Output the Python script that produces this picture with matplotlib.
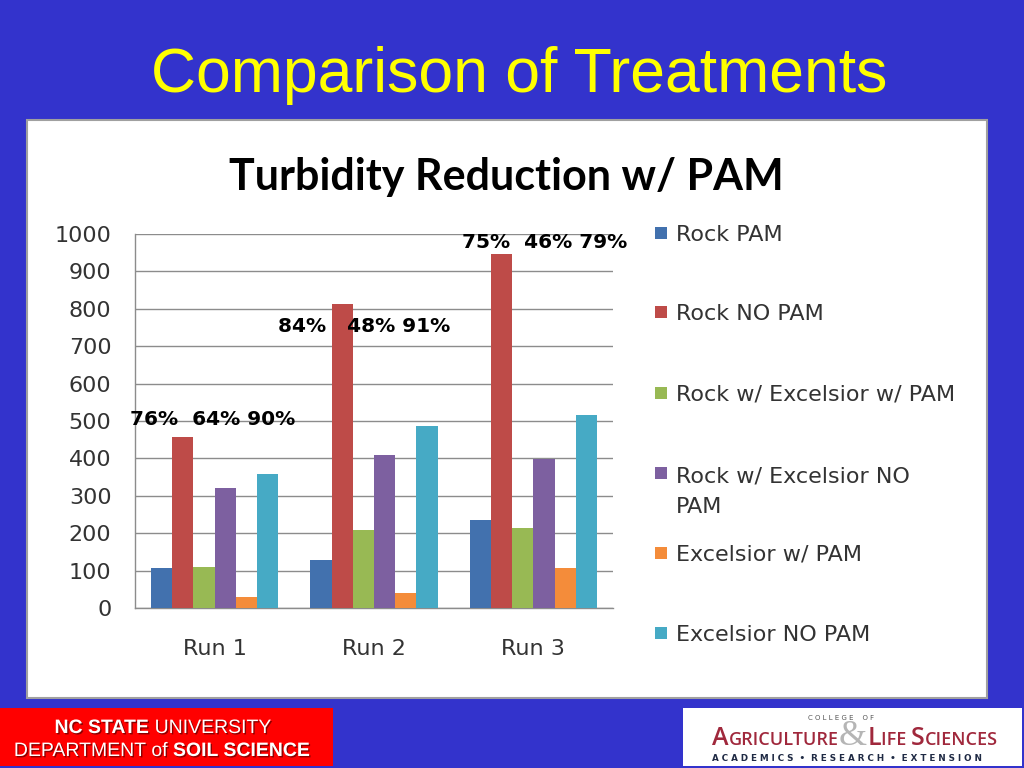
import matplotlib
matplotlib.use("Agg")
import matplotlib.pyplot as plt
import matplotlib.patheffects as pe
from matplotlib.patches import Rectangle
import numpy as np

# ---------------- data ----------------
runs = ["Run 1", "Run 2", "Run 3"]
series_names = ["Rock PAM", "Rock NO PAM", "Rock w/ Excelsior w/ PAM",
                "Rock w/ Excelsior NO\nPAM", "Excelsior w/ PAM", "Excelsior NO PAM"]
rock_pam = [108, 128, 235]
rock_no_pam = [456, 813, 946]
rock_exc_pam = [110, 209, 214]
rock_exc_no_pam = [320, 409, 399]
exc_pam = [30, 39, 108]
exc_no_pam = [358, 487, 517]
reduction_labels = ["76%  64% 90%", "84%   48% 91%", "75%  46% 79%"]
y_ticks = [0, 100, 200, 300, 400, 500, 600, 700, 800, 900, 1000]

series_values = [rock_pam, rock_no_pam, rock_exc_pam, rock_exc_no_pam, exc_pam, exc_no_pam]
colors = ["#4271AE", "#BE4B48", "#98B954", "#7D60A0", "#F48C3A", "#46AAC5"]

# annotation placement (data coords) - style/position only
label_pos = [(-0.01, 503), (0.94, 754), (2.07, 976)]

W, H = 1024, 768
fig = plt.figure(figsize=(W / 100, H / 100), dpi=100, facecolor="#3333CC")

def fx(px):
    return px / W

def fy(py):
    return 1 - py / H

# slide title
fig.text(fx(519), fy(92), "Comparison of Treatments", color="#FFFF00",
         fontsize=45, family="Liberation Sans", ha="center", va="baseline")

# white chart panel
fig.add_artist(Rectangle((fx(27), fy(698)), fx(987) - fx(27), fy(120) - fy(698),
                         transform=fig.transFigure, facecolor="white",
                         edgecolor="#A0A0A0", lw=1.5, zorder=-1))

# chart title
fig.text(fx(506), fy(190), "Turbidity Reduction w/ PAM", color="black",
         fontsize=31, family="Lato", fontweight="bold", ha="center", va="baseline")

# main axes
ax = fig.add_axes([fx(135), fy(608), fx(613) - fx(135), fy(234) - fy(608)])
ax.set_facecolor("white")
x = np.arange(len(runs))
n = len(series_values)
bw = 0.133
for i, (vals, c, name) in enumerate(zip(series_values, colors, series_names)):
    ax.bar(x + (i - (n - 1) / 2) * bw, vals, width=bw, color=c, label=name,
           zorder=3, linewidth=0)

ax.set_xlim(-0.5, 2.5)
ax.set_ylim(0, 1000)
ax.set_yticks(y_ticks)
ax.set_yticklabels([str(v) for v in y_ticks])
ax.set_xticks(x)
ax.set_xticklabels(runs)
ax.yaxis.grid(True, color="#8C8C8C", lw=1.0, zorder=0)
ax.set_axisbelow(True)
for s in ["top", "right"]:
    ax.spines[s].set_visible(False)
for s in ["left", "bottom"]:
    ax.spines[s].set_color("#8C8C8C")
    ax.spines[s].set_linewidth(1.0)
ax.tick_params(axis="y", length=0, pad=17, labelsize=16, labelcolor="#333333")
ax.tick_params(axis="x", length=0, pad=22, labelsize=16, labelcolor="#333333")
for lab in ax.get_xticklabels() + ax.get_yticklabels():
    lab.set_family("DejaVu Sans")

for (lx, ly), txt in zip(label_pos, reduction_labels):
    ax.text(lx, ly, txt, ha="center", va="center", fontsize=14.5,
            fontweight="bold", family="DejaVu Sans", color="black",
            clip_on=False, zorder=5)

# legend (manual layout to match the original spacing)
leg_y = [233, 312, 393, 473, 553, 633]
line_step = 32
for name, c, ly in zip(series_names, colors, leg_y):
    fig.add_artist(Rectangle((fx(655), fy(ly + 6)), fx(12), 12 / H,
                             transform=fig.transFigure, facecolor=c, lw=0))
    nlines = name.count("\n") + 1
    fig.text(fx(676), fy(ly + 8 + (nlines - 1) * line_step), name, fontsize=16,
             family="DejaVu Sans", color="#333333", ha="left", va="baseline",
             linespacing=1.63)

# footer boxes
fig.add_artist(Rectangle((fx(0), fy(766)), fx(333), fy(708) - fy(766),
                         transform=fig.transFigure, facecolor="#FF0000", lw=0))
fig.add_artist(Rectangle((fx(683), fy(766)), fx(1022) - fx(683), fy(708) - fy(766),
                         transform=fig.transFigure, facecolor="white", lw=0))

renderer = fig.canvas.get_renderer()

def chain(pieces, cx, base_y):
    texts = []
    for s, kw in pieces:
        t = fig.text(0, fy(base_y), s, ha="left", va="baseline", **kw)
        texts.append(t)
    widths = [t.get_window_extent(renderer).width for t in texts]
    total = sum(widths)
    xpos = cx - total / 2
    for t, w in zip(texts, widths):
        t.set_x(fx(xpos))
        xpos += w
    return texts

shadow = [pe.withSimplePatchShadow(offset=(1, -1), shadow_rgbFace="#400000", alpha=0.6)]
wkw = dict(color="white", family="Liberation Sans", fontsize=14, path_effects=shadow)
chain([("NC STATE ", dict(wkw, fontweight="bold")), ("UNIVERSITY", wkw)], 163, 733)
chain([("DEPARTMENT ", wkw), ("of ", wkw), ("SOIL SCIENCE", dict(wkw, fontweight="bold"))], 162, 756)

red = "#A0283C"
big = dict(color=red, family="Open Sans", fontsize=18, fontweight="semibold")
small = dict(color=red, family="Open Sans", fontsize=13, fontweight="semibold")
chain([("C O L L E G E    O F", dict(color="#555555", family="DejaVu Sans", fontsize=5))],
      841, 720)
chain([("A", big), ("GRICULTURE", small),
       ("&", dict(color="#B5B5B5", family="Liberation Serif", fontsize=26)),
       ("L", big), ("IFE ", small), ("S", big), ("CIENCES", small)], 855, 745)
chain([("A C A D E M I C S  •  R E S E A R C H  •  E X T E N S I O N",
        dict(color="#1F2A44", family="DejaVu Sans", fontsize=6.3, fontweight="bold"))],
      847, 761)

fig.savefig("out.png", dpi=100, facecolor=fig.get_facecolor())
